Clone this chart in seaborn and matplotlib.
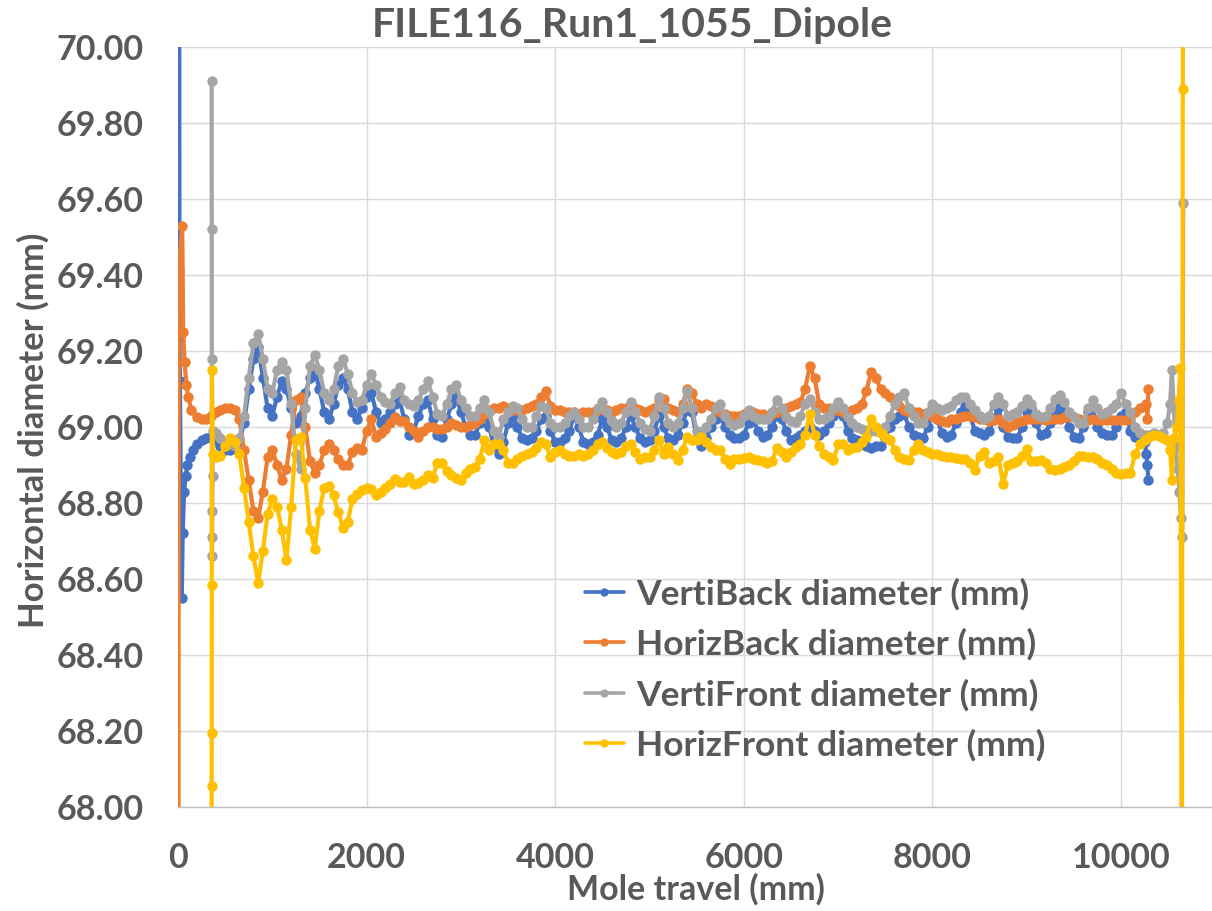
import numpy as np
import pandas as pd
import matplotlib
matplotlib.use("Agg")
import matplotlib.pyplot as plt
from matplotlib.lines import Line2D
from matplotlib.ticker import FormatStrFormatter
import seaborn as sns

sns.set_theme(style="white")
plt.rcParams["font.family"] = ["Lato", "DejaVu Sans"]
plt.rcParams["font.weight"] = "bold"

TEXT = "#595959"

title = "FILE116_Run1_1055_Dipole"
x_title = "Mole travel (mm)"
y_title = "Horizontal diameter (mm)"
series_names = ["VertiBack diameter (mm)", "HorizBack diameter (mm)",
                "VertiFront diameter (mm)", "HorizFront diameter (mm)"]
series_colors = ["#4472C4", "#ED7D31", "#A5A5A5", "#FFC000"]
x_ticks = [0, 2000, 4000, 6000, 8000, 10000]
y_ticks = [68.0, 68.2, 68.4, 68.6, 68.8, 69.0, 69.2, 69.4, 69.6, 69.8, 70.0]

# common sampling positions of the main run (mm), 400 .. 10250 every 50 mm
travel_grid = np.arange(400, 10251, 50)

# ---- VertiBack ----
vb_head_x = [12, 16, 20, 40, 50, 65, 80, 100, 130, 160, 200, 250, 300, 350]
vb_head_y = [70.5, 69.24, 69.12, 68.55, 68.72, 68.83, 68.87, 68.90, 68.92, 68.94,
             68.955, 68.965, 68.97, 68.975]
vb_body = [
    68.965, 68.95, 68.94, 68.94, 68.945, 68.96, 69.01, 69.10, 69.18, 69.21,
    69.13, 69.05, 69.03, 69.08, 69.12, 69.10, 69.05, 69.01, 69.03, 69.09,
    69.13, 69.15, 69.10, 69.04, 69.02, 69.06, 69.11, 69.13, 69.10, 69.04,
    69.02, 69.05, 69.08, 69.09, 69.04, 69.01, 69.02, 69.04, 69.06, 69.07,
    69.02, 68.98, 68.99, 69.03, 69.06, 69.07, 69.02, 68.98, 68.975, 69.02,
    69.06, 69.08, 69.04, 69.00, 68.98, 68.98, 69.01, 69.04, 69.00, 68.95,
    68.93, 68.96, 69.01, 69.03, 69.00, 68.97, 68.965, 68.97, 68.99, 69.02,
    69.03, 68.99, 68.96, 68.96, 68.97, 68.99, 69.03, 69.00, 68.96, 68.955,
    68.96, 68.98, 69.02, 69.00, 68.965, 68.96, 68.97, 69.00, 69.03, 69.00,
    68.97, 68.96, 68.965, 68.99, 69.03, 69.00, 68.97, 68.965, 68.98, 69.01,
    69.045, 69.04, 68.97, 68.95, 68.97, 69.00, 69.02, 69.03, 69.00, 68.98,
    68.97, 68.97, 68.98, 69.01, 69.02, 68.99, 68.975, 68.98, 69.00, 69.03,
    69.02, 68.99, 68.965, 68.97, 68.98, 68.99, 69.00, 68.99, 68.98, 68.99,
    69.01, 69.03, 69.05, 69.03, 68.99, 68.97, 68.965, 68.96, 68.95, 68.945,
    68.95, 68.95, 68.97, 69.00, 69.02, 69.03, 69.035, 69.00, 68.98, 68.975,
    68.97, 69.00, 69.035, 69.02, 68.985, 68.975, 68.98, 69.01, 69.04, 69.055,
    69.03, 68.99, 68.985, 68.98, 68.99, 69.02, 69.05, 69.00, 68.975, 68.97,
    68.97, 69.00, 69.04, 69.05, 69.01, 68.98, 68.985, 69.01, 69.04, 69.06,
    69.04, 69.00, 68.975, 68.97, 69.00, 69.04, 69.05, 69.00, 68.985, 68.98,
    68.98, 69.00, 69.03, 69.04, 68.99, 68.975, 68.965, 68.96,
]
vb_tail_x = [10270, 10280, 10290]
vb_tail_y = [68.93, 68.90, 68.86]

# ---- HorizBack ----
hb_head_x = [5, 8, 45, 55, 70, 90, 110, 140, 200, 250, 300, 350]
hb_head_y = [67.5, 69.41, 69.53, 69.25, 69.17, 69.11, 69.08, 69.045, 69.026,
             69.02, 69.02, 69.03]
hb_body = [
    69.04, 69.045, 69.05, 69.05, 69.045, 69.02, 68.94, 68.86, 68.78, 68.76,
    68.83, 68.92, 68.94, 68.90, 68.86, 68.89, 68.98, 69.07, 69.08, 69.00,
    68.91, 68.88, 68.90, 68.94, 68.955, 68.94, 68.915, 68.90, 68.90, 68.935,
    68.945, 68.94, 68.99, 69.02, 68.975, 68.985, 68.995, 69.01, 69.025, 69.015,
    69.015, 69.00, 68.99, 68.975, 68.99, 69.00, 69.00, 68.995, 68.995, 69.00,
    69.01, 69.005, 69.00, 69.00, 69.005, 69.01, 69.02, 69.035, 69.045, 69.05,
    69.05, 69.055, 69.05, 69.045, 69.045, 69.045, 69.05, 69.055, 69.06, 69.08,
    69.095, 69.055, 69.045, 69.045, 69.04, 69.04, 69.04, 69.035, 69.04, 69.04,
    69.04, 69.045, 69.05, 69.045, 69.04, 69.045, 69.05, 69.05, 69.055, 69.05,
    69.045, 69.04, 69.045, 69.05, 69.07, 69.075, 69.05, 69.045, 69.04, 69.06,
    69.10, 69.09, 69.06, 69.05, 69.06, 69.055, 69.045, 69.04, 69.035, 69.03,
    69.03, 69.03, 69.035, 69.04, 69.04, 69.035, 69.035, 69.03, 69.035, 69.04,
    69.045, 69.05, 69.055, 69.06, 69.065, 69.10, 69.16, 69.13, 69.06, 69.05,
    69.05, 69.045, 69.045, 69.04, 69.04, 69.045, 69.05, 69.06, 69.095, 69.145,
    69.13, 69.10, 69.09, 69.08, 69.07, 69.055, 69.045, 69.04, 69.04, 69.04,
    69.035, 69.035, 69.03, 69.02, 69.015, 69.013, 69.02, 69.022, 69.025, 69.03,
    69.03, 69.025, 69.02, 69.02, 69.015, 69.018, 69.02, 69.01, 69.00, 69.005,
    69.013, 69.015, 69.02, 69.022, 69.02, 69.02, 69.018, 69.02, 69.022, 69.022,
    69.025, 69.026, 69.025, 69.02, 69.018, 69.018, 69.02, 69.018, 69.018, 69.018,
    69.018, 69.018, 69.018, 69.018, 69.02, 69.04, 69.05, 69.055,
]
hb_tail_x = [10270, 10280, 10290]
hb_tail_y = [69.06, 69.02, 69.10]

# ---- VertiFront ----
vf_head_x = [357, 358, 359, 360, 362, 364, 366, 370]
vf_head_y = [69.91, 69.52, 69.18, 68.66, 68.71, 68.78, 68.87, 68.99]
vf_body = [
    68.985, 68.97, 68.96, 68.955, 68.95, 68.97, 69.03, 69.13, 69.22, 69.245,
    69.18, 69.10, 69.09, 69.15, 69.17, 69.15, 69.06, 68.93, 68.89, 69.05,
    69.16, 69.19, 69.15, 69.09, 69.07, 69.10, 69.16, 69.18, 69.14, 69.09,
    69.065, 69.07, 69.11, 69.14, 69.11, 69.08, 69.065, 69.06, 69.09, 69.105,
    69.07, 69.06, 69.055, 69.07, 69.10, 69.12, 69.08, 69.035, 69.03, 69.06,
    69.10, 69.11, 69.07, 69.05, 69.03, 69.03, 69.05, 69.07, 69.04, 68.99,
    68.975, 69.02, 69.04, 69.055, 69.05, 69.02, 69.00, 69.00, 69.03, 69.055,
    69.05, 69.01, 69.00, 69.00, 69.01, 69.03, 69.04, 69.02, 69.00, 69.00,
    69.02, 69.05, 69.065, 69.04, 69.015, 69.00, 69.01, 69.04, 69.065, 69.04,
    69.01, 68.995, 68.99, 69.03, 69.08, 69.05, 69.01, 69.00, 69.01, 69.05,
    69.095, 69.05, 68.99, 68.98, 69.00, 69.02, 69.05, 69.06, 69.03, 69.01,
    69.005, 69.01, 69.03, 69.045, 69.03, 69.02, 69.02, 69.02, 69.04, 69.07,
    69.05, 69.025, 69.015, 69.013, 69.03, 69.06, 69.075, 69.04, 69.02, 69.02,
    69.03, 69.05, 69.065, 69.05, 69.025, 69.01, 69.00, 68.995, 68.99, 68.99,
    68.99, 68.99, 69.00, 69.03, 69.06, 69.08, 69.09, 69.05, 69.03, 69.01,
    69.01, 69.04, 69.06, 69.05, 69.045, 69.05, 69.055, 69.07, 69.08, 69.08,
    69.06, 69.045, 69.03, 69.022, 69.03, 69.06, 69.08, 69.06, 69.03, 69.035,
    69.04, 69.055, 69.075, 69.06, 69.035, 69.025, 69.03, 69.05, 69.075, 69.085,
    69.065, 69.04, 69.025, 69.01, 69.01, 69.05, 69.07, 69.05, 69.035, 69.04,
    69.05, 69.06, 69.09, 69.06, 69.04, 69.00, 68.985, 68.98,
]
vf_tail_x = [10300, 10350, 10400, 10450, 10490, 10520, 10540, 10560, 10580,
             10600, 10620, 10635, 10650, 10660]
vf_tail_y = [68.98, 68.985, 68.98, 68.985, 69.01, 69.06, 69.15, 69.05, 68.95,
             68.89, 68.83, 68.76, 68.71, 69.59]

# ---- HorizFront ----
hf_head_x = [355, 357, 358, 359, 360, 370]
hf_head_y = [67.5, 68.055, 68.194, 68.585, 69.15, 68.93]
hf_body = [
    68.92, 68.925, 68.95, 68.97, 68.96, 68.93, 68.84, 68.75, 68.66, 68.59,
    68.675, 68.77, 68.81, 68.79, 68.73, 68.65, 68.79, 68.965, 68.975, 68.865,
    68.73, 68.68, 68.78, 68.84, 68.846, 68.82, 68.775, 68.735, 68.75, 68.81,
    68.825, 68.835, 68.84, 68.838, 68.82, 68.83, 68.84, 68.85, 68.862, 68.855,
    68.855, 68.868, 68.85, 68.852, 68.86, 68.875, 68.865, 68.905, 68.905, 68.885,
    68.875, 68.865, 68.86, 68.88, 68.89, 68.895, 68.915, 68.965, 68.94, 68.955,
    68.955, 68.94, 68.905, 68.905, 68.915, 68.925, 68.93, 68.935, 68.945, 68.96,
    68.955, 68.92, 68.935, 68.94, 68.93, 68.925, 68.925, 68.93, 68.925, 68.93,
    68.94, 68.955, 68.96, 68.945, 68.935, 68.93, 68.935, 68.95, 68.956, 68.935,
    68.917, 68.92, 68.92, 68.94, 68.965, 68.93, 68.947, 68.93, 68.912, 68.94,
    68.974, 68.965, 68.965, 68.974, 68.96, 68.947, 68.94, 68.94, 68.915, 68.903,
    68.915, 68.917, 68.918, 68.92, 68.915, 68.912, 68.91, 68.905, 68.91, 68.945,
    68.935, 68.92, 68.935, 68.947, 68.955, 68.98, 69.035, 68.98, 68.95, 68.93,
    68.92, 68.912, 68.955, 68.955, 68.94, 68.945, 68.947, 68.96, 68.974, 69.022,
    69.00, 68.985, 68.975, 68.965, 68.94, 68.92, 68.915, 68.912, 68.94, 68.956,
    68.94, 68.935, 68.93, 68.93, 68.925, 68.92, 68.92, 68.918, 68.917, 68.915,
    68.905, 68.886, 68.925, 68.935, 68.905, 68.91, 68.92, 68.85, 68.90, 68.905,
    68.91, 68.925, 68.943, 68.91, 68.91, 68.912, 68.905, 68.89, 68.886, 68.89,
    68.895, 68.90, 68.91, 68.925, 68.925, 68.92, 68.92, 68.915, 68.905, 68.90,
    68.89, 68.88, 68.877, 68.88, 68.88, 68.93, 68.955, 68.965,
]
hf_tail_x = [10300, 10350, 10400, 10450, 10490, 10520, 10540, 10560, 10590,
             10610, 10630, 10645, 10655, 10665]
hf_tail_y = [68.975, 68.978, 68.976, 68.97, 68.965, 68.94, 68.86, 68.97, 69.00,
             69.07, 69.155, 67.5, 69.89, 70.5]

parts = [
    (vb_head_x, vb_head_y, vb_body, vb_tail_x, vb_tail_y),
    (hb_head_x, hb_head_y, hb_body, hb_tail_x, hb_tail_y),
    (vf_head_x, vf_head_y, vf_body, vf_tail_x, vf_tail_y),
    (hf_head_x, hf_head_y, hf_body, hf_tail_x, hf_tail_y),
]
frames = []
for name, (hx, hy, body, tx, ty) in zip(series_names, parts):
    assert len(body) == len(travel_grid)
    frames.append(pd.DataFrame({
        "travel": np.concatenate([hx, travel_grid, tx]),
        "diameter": np.concatenate([hy, body, ty]),
        "series": name,
    }))
df = pd.concat(frames, ignore_index=True)

W, H = 1212, 911
fig = plt.figure(figsize=(W / 100, H / 100), dpi=100)
ax = fig.add_axes([178 / W, 1 - 807 / H, 1 - 178 / W, (807 - 47) / H])

LW, MS = 3.0, 7.5
sns.lineplot(data=df, x="travel", y="diameter", hue="series",
             hue_order=series_names, palette=series_colors,
             marker="o", markersize=MS, markeredgewidth=0, linewidth=LW,
             sort=False, estimator=None, legend=False, ax=ax)

ax.set_xlim(0, 10965)
ax.set_ylim(68.0, 70.0)
ax.set_xticks(x_ticks)
ax.set_yticks(y_ticks)
ax.yaxis.set_major_formatter(FormatStrFormatter("%.2f"))
ax.grid(True, color="#D9D9D9", linewidth=1.0)
ax.set_axisbelow(True)
for side in ["top", "right", "left"]:
    ax.spines[side].set_visible(False)
ax.spines["bottom"].set_color("#BFBFBF")
ax.spines["bottom"].set_linewidth(1.0)
ax.tick_params(axis="both", length=0, labelsize=24.5, colors=TEXT)
ax.tick_params(axis="y", pad=25)
ax.tick_params(axis="x", pad=25)
for lab in ax.get_xticklabels() + ax.get_yticklabels():
    lab.set_fontweight("bold")
ax.set_xlabel("")
ax.set_ylabel("")

fig.text(632 / W, 1 - 25 / H, title, ha="center", va="center",
         fontsize=29.5, fontweight="bold", color=TEXT)
fig.text(696 / W, 1 - 889 / H, x_title, ha="center", va="center",
         fontsize=24.5, fontweight="bold", color=TEXT)
fig.text(33 / W, 1 - 430 / H, y_title, ha="center", va="center", rotation=90,
         fontsize=25, fontweight="bold", color=TEXT)

handles = [Line2D([0], [0], color=c, linewidth=2.6, marker="o", markersize=6,
                  markeredgewidth=0) for c in series_colors]
leg = ax.legend(handles, series_names, loc="upper left",
                bbox_to_anchor=((585 - 178) / (W - 178), (807 - 578) / 760),
                frameon=False, fontsize=25.5, handlelength=1.1,
                handletextpad=0.35, labelspacing=0.5, borderpad=0,
                borderaxespad=0)
for t in leg.get_texts():
    t.set_color(TEXT)
    t.set_fontweight("bold")

fig.savefig("out.png", dpi=100)
